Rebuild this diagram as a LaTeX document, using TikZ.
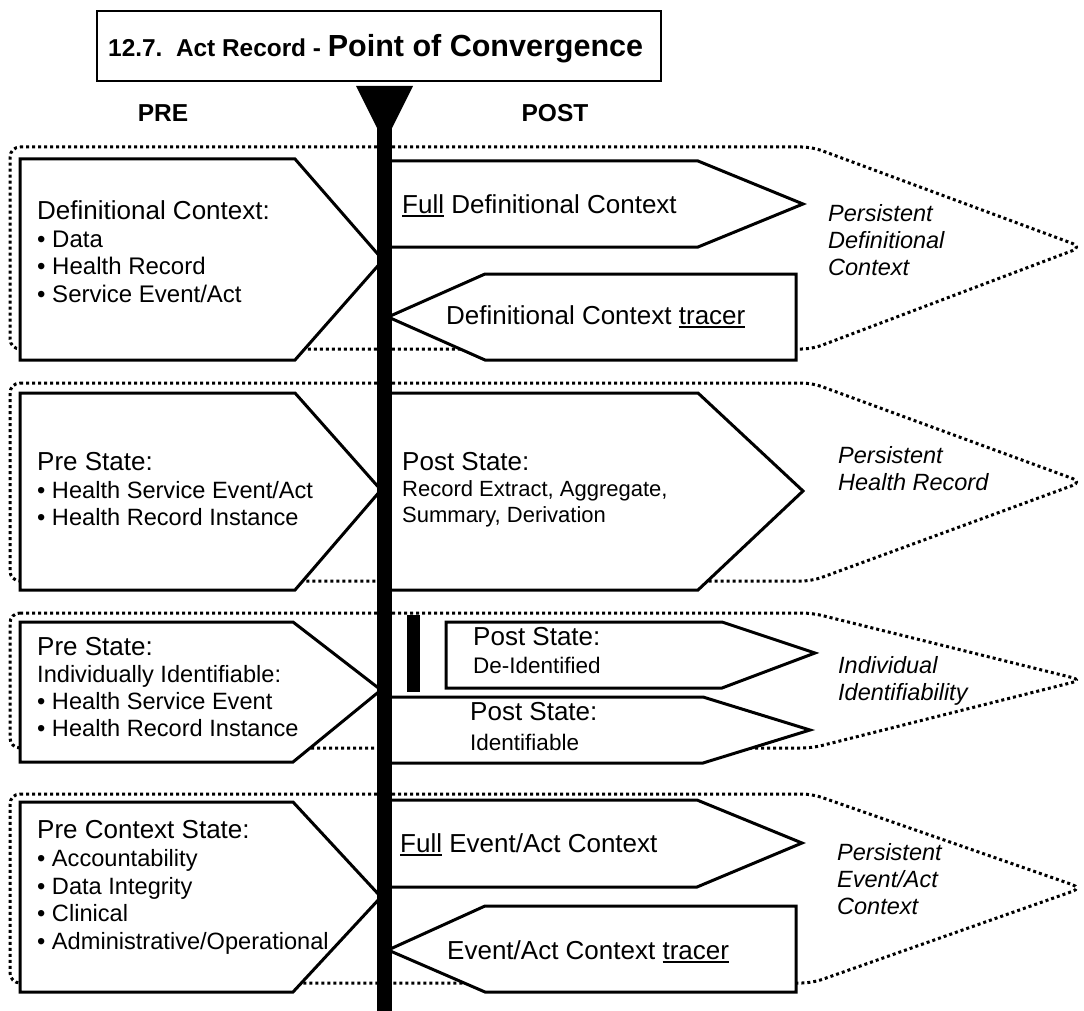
\documentclass[tikz,border=0pt]{standalone}
\usepackage{fontspec}
\setmainfont{Liberation Sans}
% font size / baseline skip shorthand
\newcommand\fsz[2]{\fontsize{#1}{#2}\selectfont}
% heavier underline than \underline gives
\newcommand\undl[1]{\setbox0\hbox{#1}\rlap{\rule[-3.2pt]{\wd0}{1.8pt}}\box0}
\begin{document}
\begin{tikzpicture}[x=1pt,y=-1pt,
  box/.style={draw, line width=3pt, fill=white, line join=miter},
  zone/.style={draw, line width=3pt, dash pattern=on 3pt off 3pt, rounded corners=10pt},
  txt/.style={anchor=north west, inner sep=0pt, align=left},
  lbl/.style={txt, font={\fsz{23.5}{27}\itshape}},
]
\useasboundingbox (0,0) rectangle (1084,1011);

% title and column heads
\draw[line width=1.5pt] (97,11) rectangle (661,81);
\node[anchor=base west, inner sep=0pt, font=\bfseries] (title) at (108,57)
  {\fsz{24.4}{28}12.7.\ \ Act Record - \fsz{30.5}{34}Point of Convergence};
\node[anchor=base, inner sep=0pt, font={\fsz{24.5}{28}\bfseries}] (pre) at (163,121.6) {PRE};
\node[anchor=base, inner sep=0pt, font={\fsz{24.5}{28}\bfseries}] (post) at (555,121.6) {POST};

% dotted zones
\draw[zone] (10,147) -- (812,147) -- (1082,247) -- (812,349) -- (10,349) -- cycle;
\draw[zone] (10,383) -- (812,383) -- (1082,482) -- (812,581) -- (10,581) -- cycle;
\draw[zone] (10,613) -- (812,613) -- (1082,680) -- (812,748) -- (10,748) -- cycle;
\draw[zone] (10,794) -- (812,794) -- (1082,888) -- (812,983) -- (10,983) -- cycle;

% section 1: definitional context
\draw[box] (20,159) -- (295,159) -- (383,260) -- (295,360) -- (20,360) -- cycle;
\draw[box] (390,161) -- (698,161) -- (803,204) -- (698,247) -- (390,247) -- cycle;
\draw[box] (388,317) -- (485,274) -- (796,274) -- (796,360) -- (485,360) -- cycle;
\node[txt, font={\fsz{24}{27.7}}] (defpre) at (37,200.5)
  {{\fsz{26}{27.7}Definitional Context:}\\• Data\\• Health Record\\• Service Event/Act};
\node[txt, font={\fsz{26}{30}}] (deffull) at (402,194.7) {\undl{Full}\ Definitional Context};
\node[txt, font={\fsz{26}{30}}] (deftracer) at (446,305.6) {Definitional Context \undl{tracer}};
\node[lbl] (deflbl) at (828,204.4) {Persistent\\Definitional\\Context};

% section 2: health record
\draw[box] (20,393) -- (295,393) -- (381,490) -- (295,590) -- (20,590) -- cycle;
\draw[box] (390,393) -- (698,393) -- (803,491) -- (698,590) -- (390,590) -- cycle;
\node[txt, font={\fsz{23.6}{27.5}}] (hrpre) at (37,452.5)
  {{\fsz{26}{27.5}Pre State:}\\• Health Service Event/Act\\• Health Record Instance};
\node[txt, font={\fsz{22}{26}}] (hrpost) at (402,452.5)
  {{\fsz{26}{26}Post State:}\\Record Extract, Aggregate,\\Summary, Derivation};
\node[lbl] (hrlbl) at (838,446.4) {Persistent\\Health Record};

% section 3: identifiability
\draw[box] (20,622) -- (293,622) -- (381,690) -- (293,762) -- (20,762) -- cycle;
\fill (407,615) rectangle (420,692);
\draw[box] (446,622) -- (722,622) -- (815,653) -- (722,688) -- (446,688) -- cycle;
\draw[box] (390,697) -- (703,697) -- (810,730) -- (703,763) -- (390,763) -- cycle;
\node[txt, font={\fsz{23.6}{27}}] (idpre) at (37,637.5)
  {{\fsz{26}{27}Pre State:}\\Individually Identifiable:\\• Health Service Event\\• Health Record Instance};
\node[txt, font={\fsz{22.5}{28}}] (deid) at (473,627.5)
  {{\fsz{26}{28}Post State:}\\De-Identified};
\node[txt, font={\fsz{22.5}{30}}] (ident) at (470,702.5)
  {{\fsz{26}{30}Post State:}\\Identifiable};
\node[lbl] (idlbl) at (838,656.4) {Individual\\Identifiability};

% section 4: event/act context
\draw[box] (20,802) -- (293,802) -- (381,897) -- (293,992) -- (20,992) -- cycle;
\draw[box] (390,800) -- (697,800) -- (802,843) -- (697,887) -- (390,887) -- cycle;
\draw[box] (388,950) -- (485,906) -- (796,906) -- (796,992) -- (485,992) -- cycle;
\node[txt, font={\fsz{23.6}{27.7}}] (evpre) at (37,820.5)
  {{\fsz{26}{27.7}Pre Context State:}\\• Accountability\\• Data Integrity\\• Clinical\\• Administrative/Operational};
\node[txt, font={\fsz{26}{30}}] (evfull) at (400,833.5) {\undl{Full}\ Event/Act Context};
\node[txt, font={\fsz{26}{30}}] (evtracer) at (447,940.5) {Event/Act Context \undl{tracer}};
\node[lbl] (evlbl) at (837,843.4) {Persistent\\Event/Act\\Context};

% point of convergence: the axis and its head
\draw[line width=15pt] (384.5,87) -- (384.5,1011);
\fill (356,86) -- (413,86) -- (384.5,143) -- cycle;
\end{tikzpicture}
\end{document}
